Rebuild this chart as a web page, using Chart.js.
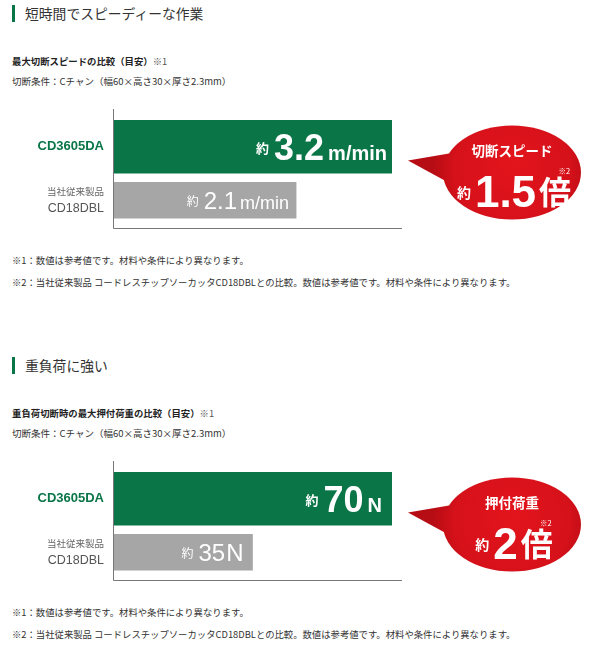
<!DOCTYPE html>
<html>
<head>
<meta charset="utf-8">
<script src="https://cdn.jsdelivr.net/npm/chart.js@4.4.1/dist/chart.umd.min.js"></script>
<style>
body{margin:0;background:#fff;font-family:"Noto Sans CJK JP",sans-serif;color:#333;}
.sec{position:absolute;left:0;width:601px;height:352px;}
.mark{position:absolute;left:12px;top:5px;width:3px;height:17px;background:#0a7647;}
.h{position:absolute;left:25px;top:3px;font-size:13.8px;line-height:20px;color:#333;white-space:nowrap;}
.sub{position:absolute;left:12px;top:51px;font-size:9.4px;font-weight:bold;line-height:20px;color:#222;white-space:nowrap;}
.sub span{font-weight:normal;color:#555;}
.cond{position:absolute;left:12px;top:71px;font-size:9.5px;line-height:20px;color:#333;white-space:nowrap;}
.note{position:absolute;left:12px;font-size:9.35px;line-height:20px;color:#333;white-space:nowrap;}
canvas{position:absolute;left:0;top:100px;}
</style>
</head>
<body>
<div class="sec" style="top:0">
  <div class="mark"></div>
  <div class="h">短時間でスピーディーな作業</div>
  <div class="sub">最大切断スピードの比較（目安）<span>※1</span></div>
  <div class="cond">切断条件：Cチャン（幅60×高さ30×厚さ2.3mm）</div>
  <canvas id="speed-chart" width="601" height="135"></canvas>
  <div class="note" style="top:250px">※1：数値は参考値です。材料や条件により異なります。</div>
  <div class="note" style="top:272px">※2：当社従来製品 コードレスチップソーカッタCD18DBLとの比較。数値は参考値です。材料や条件により異なります。</div>
</div>
<div class="sec" style="top:352px">
  <div class="mark"></div>
  <div class="h">重負荷に強い</div>
  <div class="sub">重負荷切断時の最大押付荷重の比較（目安）<span>※1</span></div>
  <div class="cond">切断条件：Cチャン（幅60×高さ30×厚さ2.3mm）</div>
  <canvas id="load-chart" width="601" height="135"></canvas>
  <div class="note" style="top:250px">※1：数値は参考値です。材料や条件により異なります。</div>
  <div class="note" style="top:272px">※2：当社従来製品 コードレスチップソーカッタCD18DBLとの比較。数値は参考値です。材料や条件により異なります。</div>
</div>
<script>
// data
var categories = ['CD3605DA', ['当社従来製品', 'CD18DBL']];
var speedValues = [3.2, 2.1];
var speedUnit = 'm/min';
var speedTitle = '切断スピード';
var speedRatio = '1.5';
var loadValues = [70, 35];
var loadUnit = 'N';
var loadTitle = '押付荷重';
var loadRatio = '2';

var GREEN = '#0a7647';
var GRAY = '#a6a6a6';
var NUM = '"Liberation Sans", Arial, sans-serif';
var JP = '"Noto Sans CJK JP", sans-serif';

// how the category names are drawn, one entry per line
var labelStyles = [
  [{font: 'bold 13px ' + NUM, color: GREEN, dy: 0}],
  [{font: '9.5px ' + JP, color: '#666', dy: -9}, {font: '12.5px ' + NUM, color: '#555', dy: 8}]
];

function drawGraph(canvasId, values, unit, title, ratio, textStyles) {
  var ctx = document.getElementById(canvasId);

  var axisLines = {
    id: 'axisLines',
    afterDatasetsDraw: function (chart) {
      var a = chart.chartArea, c = chart.ctx;
      c.save();
      c.strokeStyle = '#777';
      c.lineWidth = 1;
      c.beginPath();
      c.moveTo(a.left + 0.5, a.top - 11);
      c.lineTo(a.left + 0.5, a.bottom + 1.5);
      c.lineTo(a.right + 10, a.bottom + 1.5);
      c.stroke();
      c.restore();
    }
  };

  var categoryLabels = {
    id: 'categoryLabels',
    afterDraw: function (chart) {
      var c = chart.ctx, y = chart.scales.y, x0 = chart.chartArea.left - 9;
      c.save();
      c.textAlign = 'right';
      c.textBaseline = 'middle';
      chart.data.labels.forEach(function (lab, i) {
        var lines = Array.isArray(lab) ? lab : [lab];
        var cy = y.getPixelForValue(i);
        lines.forEach(function (t, j) {
          var st = labelStyles[i][j];
          c.font = st.font;
          c.fillStyle = st.color;
          c.fillText(t, x0, cy + st.dy);
        });
      });
      c.restore();
    }
  };

  var valueLabels = {
    id: 'valueLabels',
    afterDatasetsDraw: function (chart) {
      var c = chart.ctx;
      c.save();
      c.fillStyle = '#fff';
      c.textAlign = 'left';
      c.textBaseline = 'alphabetic';
      chart.data.datasets.forEach(function (ds, di) {
        chart.getDatasetMeta(di).data.forEach(function (el, i) {
          var v = ds.data[i];
          if (v === null) return;
          var st = textStyles[di];
          var pieces = [
            {t: '約', f: st.approx, dy: st.approxDy, gap: st.gap1},
            {t: String(v), f: st.num, dy: st.base, gap: st.gap2},
            {t: unit, f: st.unit, dy: st.base, gap: 0}
          ];
          var w = 0;
          pieces.forEach(function (p) { c.font = p.f; p.w = c.measureText(p.t).width; w += p.w + p.gap; });
          var x = el.x - st.pad - w;
          pieces.forEach(function (p) { c.font = p.f; c.fillText(p.t, x, el.y + p.dy); x += p.w + p.gap; });
        });
      });
      c.restore();
    }
  };

  var bubble = {
    id: 'bubble',
    afterDraw: function (chart) {
      var a = chart.chartArea, c = chart.ctx;
      var cx = a.right + 120, cy = (a.top + a.bottom) / 2 - 1;
      c.save();
      var g = c.createRadialGradient(cx, cy - 12, 5, cx, cy, 80);
      g.addColorStop(0, '#e2141c');
      g.addColorStop(0.7, '#d6111a');
      g.addColorStop(1, '#b60c14');
      c.fillStyle = g;
      c.beginPath();
      c.ellipse(cx, cy, 69, 47, 0, 0, Math.PI * 2);
      c.fill();
      c.beginPath();
      c.moveTo(cx - 63, cy - 19);
      c.lineTo(cx - 104, cy - 12);
      c.lineTo(cx - 60, cy + 12);
      c.closePath();
      c.fill();

      c.fillStyle = '#fff';
      c.textAlign = 'center';
      c.textBaseline = 'alphabetic';
      c.font = 'bold 13.5px ' + JP;
      c.fillText(title, cx, cy - 17);

      var parts = [
        {t: '約', f: 'bold 14px ' + JP, dy: 25, gap: 4},
        {t: ratio, f: 'bold 44px ' + NUM, dy: 34, gap: 3},
        {t: '倍', f: 'bold 32px ' + JP, dy: 31, gap: 0}
      ];
      var w = 0;
      parts.forEach(function (p) { c.font = p.f; p.w = c.measureText(p.t).width; w += p.w + p.gap; });
      c.textAlign = 'left';
      var x = cx - w / 2 + 2;
      parts.forEach(function (p) { c.font = p.f; c.fillText(p.t, x, cy + p.dy); x += p.w + p.gap; });
      c.font = '7.5px ' + JP;
      c.textAlign = 'right';
      c.fillText('※2', x - 1, cy + 1);
      c.restore();
    }
  };

  return new Chart(ctx, {
    type: 'bar',
    data: {
      labels: categories,
      datasets: [{
        data: [values[0], null],
        backgroundColor: GREEN,
        barThickness: 53
      }, {
        data: [null, values[1]],
        backgroundColor: GRAY,
        barThickness: 36
      }]
    },
    options: {
      indexAxis: 'y',
      responsive: false,
      animation: false,
      layout: {padding: {top: 20, bottom: 8, left: 0, right: 209}},
      scales: {
        x: {display: false, stacked: true, min: 0, max: Math.max.apply(null, values)},
        y: {
          stacked: true,
          grid: {display: false, drawTicks: false},
          border: {display: false},
          ticks: {display: false},
          afterFit: function (s) { s.width = 113; }
        }
      },
      plugins: {
        legend: {display: false},
        tooltip: {enabled: false}
      }
    },
    plugins: [axisLines, categoryLabels, valueLabels, bubble]
  });
}

drawGraph('speed-chart', speedValues, speedUnit, speedTitle, speedRatio, [
  {approx: 'bold 13px ' + JP, approxDy: 6, num: 'bold 36px ' + NUM, unit: 'bold 20px ' + NUM, base: 13, gap1: 5, gap2: 4, pad: 5},
  {approx: '12px ' + JP, approxDy: 6, num: '24px ' + NUM, unit: '18px ' + NUM, base: 9, gap1: 5, gap2: 3, pad: 7}
]);
drawGraph('load-chart', loadValues, loadUnit, loadTitle, loadRatio, [
  {approx: 'bold 13px ' + JP, approxDy: 6, num: 'bold 36px ' + NUM, unit: 'bold 20px ' + NUM, base: 13, gap1: 5, gap2: 4, pad: 10},
  {approx: '12px ' + JP, approxDy: 6, num: '24px ' + NUM, unit: '24px ' + NUM, base: 9, gap1: 5, gap2: 1, pad: 9}
]);
</script>
</body>
</html>
